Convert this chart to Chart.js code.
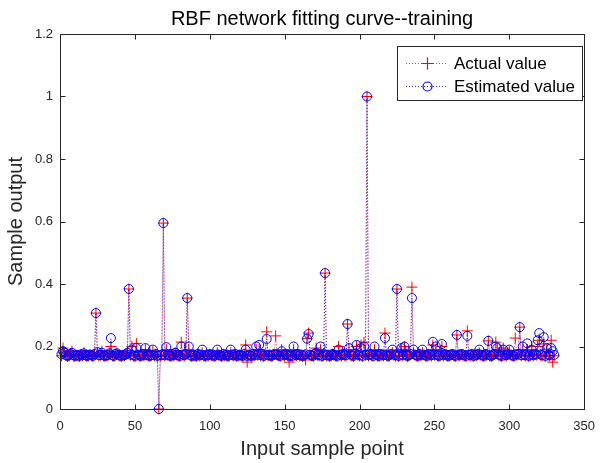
<!DOCTYPE html>
<html>
<head>
<meta charset="utf-8">
<script src="https://cdn.jsdelivr.net/npm/chart.js@4.4.0/dist/chart.umd.min.js"></script>
<style>
  html, body { margin: 0; padding: 0; background: #fff; }
  #wrap { width: 605px; height: 463px; }
</style>
</head>
<body>
<div id="wrap"><canvas id="fit-chart" width="605" height="463"></canvas></div>
<script>
// Chart data (sample index runs 1..N)
const actualValue = [
    0.17, 0.195, 0.18, 0.172, 0.168, 0.17, 0.175, 0.185, 0.17, 0.168,
    0.172, 0.17, 0.168, 0.175, 0.17, 0.18, 0.172, 0.168, 0.17, 0.174,
    0.17, 0.168, 0.175, 0.307, 0.18, 0.17, 0.172, 0.185, 0.17, 0.168,
    0.172, 0.17, 0.178, 0.2, 0.17, 0.168, 0.175, 0.18, 0.172, 0.17,
    0.168, 0.172, 0.17, 0.175, 0.18, 0.384, 0.172, 0.2, 0.17, 0.168,
    0.21, 0.172, 0.17, 0.168, 0.175, 0.17, 0.19, 0.172, 0.17, 0.168,
    0.172, 0.185, 0.17, 0.175, 0.168, 0, 0.17, 0.172, 0.595, 0.17,
    0.19, 0.172, 0.17, 0.168, 0.175, 0.17, 0.18, 0.172, 0.17, 0.168,
    0.214, 0.172, 0.17, 0.175, 0.355, 0.19, 0.17, 0.168, 0.172, 0.17,
    0.168, 0.175, 0.17, 0.172, 0.18, 0.17, 0.168, 0.172, 0.17, 0.175,
    0.17, 0.172, 0.168, 0.17, 0.18, 0.172, 0.17, 0.168, 0.175, 0.17,
    0.172, 0.168, 0.17, 0.18, 0.172, 0.17, 0.175, 0.168, 0.17, 0.172,
    0.17, 0.168, 0.175, 0.205, 0.15, 0.172, 0.17, 0.168, 0.175, 0.17,
    0.19, 0.172, 0.19, 0.17, 0.175, 0.168, 0.172, 0.247, 0.17, 0.172,
    0.168, 0.17, 0.175, 0.234, 0.172, 0.17, 0.168, 0.19, 0.172, 0.17,
    0.175, 0.172, 0.15, 0.17, 0.168, 0.19, 0.172, 0.17, 0.175, 0.17,
    0.172, 0.168, 0.17, 0.157, 0.225, 0.243, 0.172, 0.17, 0.168, 0.175,
    0.195, 0.172, 0.17, 0.19, 0.168, 0.172, 0.435, 0.17, 0.172, 0.168,
    0.17, 0.175, 0.172, 0.17, 0.168, 0.2, 0.172, 0.17, 0.175, 0.172,
    0.17, 0.272, 0.19, 0.172, 0.17, 0.168, 0.175, 0.2, 0.172, 0.17,
    0.205, 0.168, 0.214, 0.172, 1.0, 0.17, 0.175, 0.172, 0.168, 0.19,
    0.172, 0.17, 0.168, 0.175, 0.172, 0.17, 0.243, 0.172, 0.168, 0.17,
    0.175, 0.18, 0.172, 0.17, 0.384, 0.168, 0.172, 0.19, 0.17, 0.2,
    0.172, 0.168, 0.17, 0.175, 0.39, 0.18, 0.172, 0.17, 0.168, 0.175,
    0.17, 0.18, 0.172, 0.17, 0.168, 0.175, 0.172, 0.17, 0.205, 0.172,
    0.19, 0.17, 0.168, 0.172, 0.2, 0.17, 0.175, 0.172, 0.168, 0.17,
    0.172, 0.175, 0.17, 0.168, 0.237, 0.172, 0.17, 0.175, 0.172, 0.17,
    0.168, 0.25, 0.172, 0.17, 0.175, 0.168, 0.172, 0.17, 0.175, 0.18,
    0.172, 0.17, 0.168, 0.175, 0.172, 0.218, 0.17, 0.168, 0.172, 0.175,
    0.214, 0.19, 0.172, 0.17, 0.168, 0.195, 0.172, 0.17, 0.175, 0.185,
    0.172, 0.17, 0.168, 0.227, 0.172, 0.175, 0.262, 0.17, 0.19, 0.172,
    0.17, 0.19, 0.168, 0.172, 0.2, 0.17, 0.175, 0.172, 0.2, 0.22,
    0.172, 0.17, 0.208, 0.168, 0.19, 0.172, 0.17, 0.22, 0.15, 0.17
];

const estimatedValue = [
    0.175, 0.185, 0.18, 0.172, 0.17, 0.172, 0.176, 0.18, 0.172, 0.17,
    0.173, 0.172, 0.17, 0.175, 0.172, 0.178, 0.173, 0.17, 0.172, 0.174,
    0.172, 0.17, 0.176, 0.307, 0.182, 0.172, 0.173, 0.18, 0.172, 0.17,
    0.173, 0.172, 0.178, 0.227, 0.172, 0.17, 0.176, 0.178, 0.173, 0.172,
    0.17, 0.173, 0.172, 0.175, 0.18, 0.384, 0.174, 0.19, 0.172, 0.17,
    0.195, 0.174, 0.172, 0.17, 0.176, 0.172, 0.195, 0.174, 0.172, 0.17,
    0.173, 0.19, 0.172, 0.176, 0.17, 0, 0.172, 0.174, 0.595, 0.172,
    0.198, 0.174, 0.172, 0.17, 0.176, 0.172, 0.18, 0.174, 0.172, 0.17,
    0.2, 0.174, 0.172, 0.176, 0.355, 0.2, 0.172, 0.17, 0.174, 0.172,
    0.17, 0.176, 0.172, 0.174, 0.19, 0.172, 0.17, 0.174, 0.172, 0.176,
    0.172, 0.174, 0.17, 0.172, 0.19, 0.174, 0.172, 0.17, 0.176, 0.172,
    0.174, 0.17, 0.172, 0.19, 0.174, 0.172, 0.176, 0.17, 0.172, 0.174,
    0.172, 0.17, 0.176, 0.19, 0.17, 0.174, 0.172, 0.17, 0.176, 0.172,
    0.2, 0.174, 0.205, 0.172, 0.176, 0.17, 0.174, 0.224, 0.172, 0.174,
    0.17, 0.172, 0.176, 0.175, 0.174, 0.172, 0.17, 0.185, 0.174, 0.172,
    0.176, 0.174, 0.17, 0.172, 0.17, 0.2, 0.174, 0.172, 0.176, 0.172,
    0.174, 0.17, 0.172, 0.175, 0.225, 0.24, 0.174, 0.172, 0.17, 0.176,
    0.18, 0.174, 0.172, 0.2, 0.17, 0.174, 0.435, 0.172, 0.174, 0.17,
    0.172, 0.176, 0.174, 0.172, 0.17, 0.19, 0.174, 0.172, 0.176, 0.174,
    0.172, 0.272, 0.195, 0.174, 0.172, 0.17, 0.176, 0.205, 0.174, 0.172,
    0.195, 0.17, 0.2, 0.174, 1.0, 0.172, 0.176, 0.174, 0.17, 0.2,
    0.174, 0.172, 0.17, 0.176, 0.174, 0.172, 0.227, 0.174, 0.17, 0.172,
    0.176, 0.19, 0.174, 0.172, 0.384, 0.17, 0.174, 0.195, 0.172, 0.2,
    0.174, 0.17, 0.172, 0.176, 0.355, 0.19, 0.174, 0.172, 0.17, 0.176,
    0.172, 0.19, 0.174, 0.172, 0.17, 0.176, 0.174, 0.172, 0.215, 0.174,
    0.2, 0.172, 0.17, 0.174, 0.208, 0.172, 0.176, 0.174, 0.17, 0.172,
    0.174, 0.176, 0.172, 0.17, 0.237, 0.174, 0.172, 0.176, 0.174, 0.172,
    0.17, 0.234, 0.174, 0.172, 0.176, 0.17, 0.174, 0.172, 0.176, 0.19,
    0.174, 0.172, 0.17, 0.176, 0.174, 0.218, 0.172, 0.17, 0.174, 0.176,
    0.2, 0.195, 0.174, 0.172, 0.17, 0.19, 0.174, 0.172, 0.176, 0.19,
    0.174, 0.172, 0.17, 0.175, 0.174, 0.176, 0.262, 0.172, 0.2, 0.174,
    0.172, 0.21, 0.17, 0.174, 0.19, 0.172, 0.176, 0.174, 0.22, 0.243,
    0.174, 0.172, 0.23, 0.17, 0.195, 0.174, 0.172, 0.195, 0.185, 0.173
];

// Axis ticks
const xTicks = [0, 50, 100, 150, 200, 250, 300, 350];
const yTicks = [0, 0.2, 0.4, 0.6, 0.8, 1, 1.2];

const seriesNames = ['Actual value', 'Estimated value'];
const seriesColors = ['rgb(255, 0, 0)', 'rgb(0, 0, 255)'];

const FONT = "'Liberation Sans', Arial, Helvetica, sans-serif";
const AXIS_COLOR = '#262626';

function toPoints(values) {
    return values.map((v, i) => ({ x: i + 1, y: v }));
}

// Box, inward tick marks and legend, drawn like a MATLAB axes
const framePlugin = {
    id: 'frame',
    afterDatasetsDraw(chart) {
        const ctx = chart.ctx;
        const a = chart.chartArea;
        const xs = chart.scales.x;
        const ys = chart.scales.y;
        const L = Math.round(a.left) + 0.5, R = Math.round(a.right) + 0.5;
        const T = Math.round(a.top) + 0.5, B = Math.round(a.bottom) + 0.5;

        ctx.save();
        ctx.strokeStyle = AXIS_COLOR;
        ctx.lineWidth = 1;
        ctx.setLineDash([]);
        ctx.strokeRect(L, T, R - L, B - T);

        ctx.beginPath();
        xTicks.forEach(t => {
            const px = Math.round(xs.getPixelForValue(t)) + 0.5;
            ctx.moveTo(px, B); ctx.lineTo(px, B - 5);
            ctx.moveTo(px, T); ctx.lineTo(px, T + 5);
        });
        yTicks.forEach(t => {
            const py = Math.round(ys.getPixelForValue(t)) + 0.5;
            ctx.moveTo(L, py); ctx.lineTo(L + 5, py);
            ctx.moveTo(R, py); ctx.lineTo(R - 5, py);
        });
        ctx.stroke();

        // legend box
        const bx = 397, by = 46, bw = 185, bh = 54;
        ctx.fillStyle = '#ffffff';
        ctx.fillRect(bx, by, bw, bh);
        ctx.strokeStyle = AXIS_COLOR;
        ctx.strokeRect(bx + 0.5, by + 0.5, bw, bh);

        [63, 86].forEach((rowY, i) => {
            const color = seriesColors[i];
            ctx.strokeStyle = color;
            ctx.lineWidth = 0.8;
            ctx.setLineDash([1, 2]);
            ctx.beginPath();
            ctx.moveTo(406, rowY + 0.5);
            ctx.lineTo(448, rowY + 0.5);
            ctx.stroke();

            ctx.setLineDash([]);
            ctx.strokeStyle = color;
            ctx.lineWidth = 1.2;
            ctx.beginPath();
            if (i === 0) {
                ctx.moveTo(421.5, rowY + 0.5); ctx.lineTo(433.5, rowY + 0.5);
                ctx.moveTo(427.5, rowY - 5.5); ctx.lineTo(427.5, rowY + 6.5);
            } else {
                ctx.arc(427.5, rowY + 0.5, 4.5, 0, Math.PI * 2);
            }
            ctx.stroke();

            ctx.fillStyle = '#000000';
            ctx.font = '17px ' + FONT;
            ctx.textAlign = 'left';
            ctx.textBaseline = 'middle';
            ctx.fillText(seriesNames[i], 454, rowY + 1);
        });
        ctx.restore();
    }
};

const ctx = document.getElementById('fit-chart').getContext('2d');
const fitChart = new Chart(ctx, {
    type: 'scatter',
    data: {
        datasets: [
            {
                label: seriesNames[0],
                data: toPoints(actualValue),
                showLine: true,
                borderColor: seriesColors[0],
                borderWidth: 0.8,
                borderDash: [1, 2],
                pointStyle: 'cross',
                pointRadius: 5.5,
                pointBorderColor: seriesColors[0],
                pointBorderWidth: 1,
                pointBackgroundColor: 'rgba(0,0,0,0)',
                clip: false,
                order: 1
            },
            {
                label: seriesNames[1],
                data: toPoints(estimatedValue),
                showLine: true,
                borderColor: seriesColors[1],
                borderWidth: 0.8,
                borderDash: [1, 2],
                pointStyle: 'circle',
                pointRadius: 4.5,
                pointBorderColor: seriesColors[1],
                pointBorderWidth: 1,
                pointBackgroundColor: 'rgba(0,0,0,0)',
                clip: false,
                order: 0
            }
        ]
    },
    options: {
        responsive: false,
        animation: false,
        devicePixelRatio: 1,
        layout: { padding: { left: 0, right: 12, top: 0, bottom: 0 } },
        plugins: {
            legend: { display: false },
            tooltip: { enabled: false },
            title: {
                display: true,
                fullSize: false,
                text: 'RBF network fitting curve--training',
                color: '#000000',
                font: { family: FONT, size: 20, weight: 'normal' },
                padding: { top: 7, bottom: 3 }
            }
        },
        scales: {
            x: {
                type: 'linear',
                min: 0,
                max: 350,
                afterFit: s => { s.height = 54; },
                afterBuildTicks: s => { s.ticks = xTicks.map(v => ({ value: v })); },
                ticks: {
                    color: AXIS_COLOR,
                    font: { family: FONT, size: 13 },
                    padding: 10,
                    maxRotation: 0,
                    autoSkip: false
                },
                grid: { display: false, drawTicks: false },
                border: { display: false },
                title: {
                    display: true,
                    text: 'Input sample point',
                    color: AXIS_COLOR,
                    font: { family: FONT, size: 20 },
                    padding: { top: 0, bottom: 1.5 }
                }
            },
            y: {
                min: 0,
                max: 1.2,
                afterFit: s => { s.width = 60; },
                afterBuildTicks: s => { s.ticks = yTicks.map(v => ({ value: v })); },
                ticks: {
                    color: AXIS_COLOR,
                    font: { family: FONT, size: 13 },
                    padding: 7,
                    callback: v => String(Math.round(v * 10) / 10)
                },
                grid: { display: false, drawTicks: false },
                border: { display: false },
                title: {
                    display: true,
                    text: 'Sample output',
                    color: AXIS_COLOR,
                    font: { family: FONT, size: 20 },
                    padding: { top: 4.5, bottom: 0 }
                }
            }
        }
    },
    plugins: [framePlugin]
});
</script>
</body>
</html>
